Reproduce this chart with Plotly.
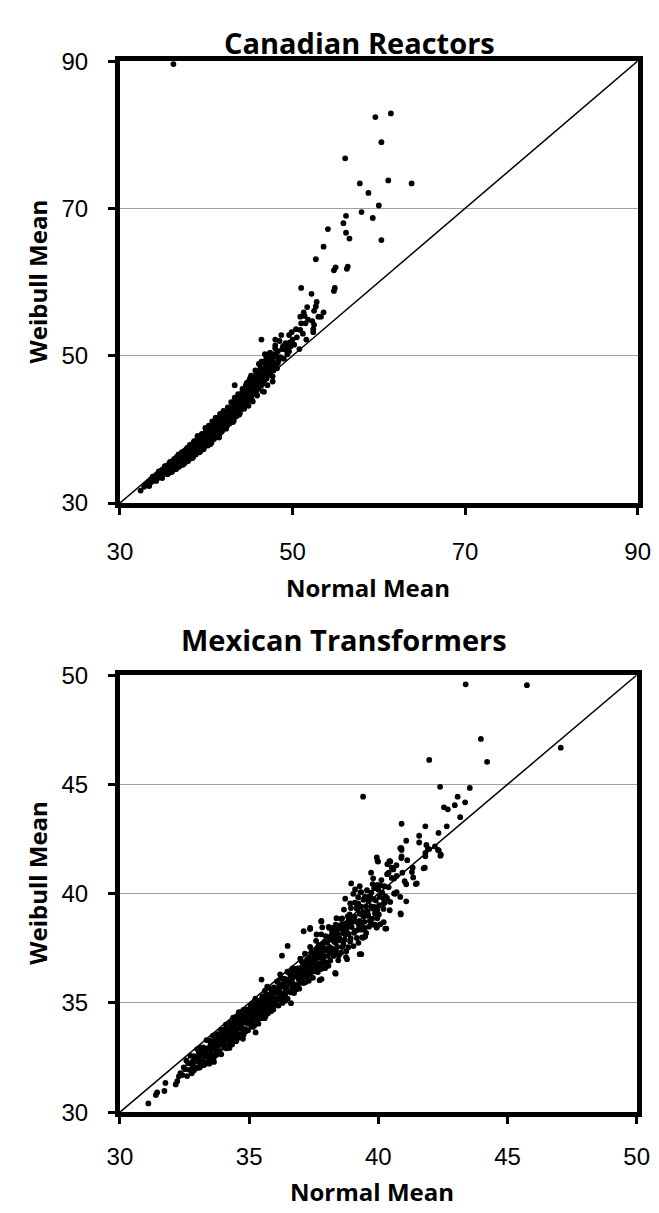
import plotly.graph_objects as go

# ---------------- data ----------------
can_range = [30, 90]
can_ticks = [30, 50, 70, 90]
mex_range = [30, 50]
mex_ticks = [30, 35, 40, 45, 50]
diag_can = [30, 90]
diag_mex = [30, 50]

# Canadian Reactors: dense band (Normal Mean, Weibull Mean)
can_band = [
    (32.4, 31.7), (32.8, 32.2), (33.0, 32.5), (33.2, 32.4), (33.3, 32.9), (33.5, 32.8), (33.6, 33.2), (33.7, 32.9), (33.9, 33.1), (34.0, 33.6),
    (34.1, 33.2), (34.2, 33.6), (34.3, 33.9), (34.4, 33.4), (34.5, 33.8), (34.6, 34.2), (34.7, 33.6), (34.8, 34.0), (34.9, 34.5), (35.0, 33.9),
    (35.1, 34.3), (35.2, 34.7), (35.3, 34.1), (35.4, 34.5), (35.5, 35.0), (35.6, 34.3), (35.7, 34.8), (35.8, 35.3), (35.9, 34.6), (36.0, 35.1),
    (36.1, 35.5), (36.2, 34.8), (36.3, 35.3), (36.4, 35.8), (36.5, 35.1), (36.6, 35.6), (36.7, 36.2), (36.8, 35.3), (36.9, 35.9), (37.0, 36.4),
    (37.1, 35.5), (37.2, 36.1), (37.3, 36.6), (37.4, 35.8), (37.5, 36.3), (37.6, 36.9), (37.7, 36.0), (37.8, 36.6), (37.9, 37.2), (38.0, 36.2),
    (36.3, 34.9), (36.9, 36.5), (37.4, 36.9), (37.9, 36.0), (37.0, 35.7),
    (38.1, 36.8), (38.2, 37.4), (38.3, 36.4), (38.4, 37.0), (38.5, 37.7), (38.6, 36.7), (38.7, 37.3), (38.8, 38.0), (38.9, 36.9), (39.0, 37.5),
    (39.1, 38.2), (39.2, 37.2), (39.3, 37.9), (39.4, 38.6), (39.5, 37.4), (39.6, 38.1), (39.7, 38.8), (39.8, 37.7), (39.9, 38.4), (40.0, 39.1),
    (38.2, 36.6), (38.6, 38.3), (39.0, 38.6), (39.4, 37.6), (39.8, 39.2), (38.4, 37.9), (39.2, 38.8), (39.7, 37.9),
    (40.1, 38.0), (40.2, 38.7), (40.3, 39.5), (40.4, 38.3), (40.5, 39.0), (40.6, 39.8), (40.7, 38.6), (40.8, 39.3), (40.9, 40.1), (41.0, 38.9),
    (41.1, 39.6), (41.2, 40.4), (41.3, 39.2), (41.4, 39.9), (41.5, 40.8), (41.6, 39.5), (41.7, 40.3), (41.8, 41.1), (41.9, 39.9), (42.0, 40.6),
    (40.3, 38.9), (40.6, 40.3), (40.9, 39.6), (41.2, 41.0), (41.5, 39.3), (41.8, 40.6), (42.0, 41.6), (40.0, 38.4), (41.0, 40.6), (41.4, 40.2),
    (42.1, 41.4), (42.2, 40.3), (42.3, 41.0), (42.4, 41.9), (42.5, 40.7), (42.6, 41.5), (42.7, 42.4), (42.8, 41.1), (42.9, 41.9), (43.0, 42.9),
    (43.1, 41.5), (43.2, 42.3), (43.3, 43.3), (43.4, 41.9), (43.5, 42.8), (43.6, 43.8), (43.7, 42.3), (43.8, 43.2), (43.9, 44.3), (44.0, 42.7),
    (42.3, 42.2), (42.6, 40.9), (42.9, 42.7), (43.2, 41.6), (43.5, 43.6), (43.8, 42.0), (44.0, 44.0), (42.4, 41.2), (43.1, 42.0), (43.6, 42.7),
    (44.1, 43.6), (44.2, 44.6), (44.3, 42.9), (44.4, 44.0), (44.5, 45.1), (44.6, 43.4), (44.7, 44.5), (44.8, 45.6), (44.9, 43.9), (45.0, 45.0),
    (45.1, 46.1), (45.2, 44.3), (45.3, 45.5), (45.4, 46.6), (45.5, 44.8), (45.6, 46.0), (45.7, 47.1), (45.8, 45.2), (45.9, 46.4), (46.0, 47.6),
    (44.3, 44.9), (44.6, 46.0), (44.9, 45.3), (45.2, 47.3), (45.5, 45.9), (45.8, 47.8), (46.0, 45.6), (44.5, 43.8), (45.0, 46.7), (45.4, 45.0),
    (46.1, 46.3), (46.2, 47.4), (46.3, 48.3), (46.4, 46.0), (46.5, 47.1), (46.6, 48.0), (46.7, 46.6), (46.8, 47.8), (46.9, 48.9), (47.0, 46.9),
    (47.1, 48.3), (47.2, 49.3), (47.3, 47.4), (47.4, 48.7), (47.5, 47.9), (47.6, 49.6), (47.7, 48.2), (47.8, 49.1), (47.9, 50.2), (48.0, 48.5),
    (46.2, 48.8), (46.6, 46.4), (47.0, 49.8), (47.4, 50.4), (47.8, 48.0), (46.4, 49.2), (47.2, 47.8),
    (35.3, 34.9), (35.6, 34.0), (35.9, 35.4), (36.1, 34.4), (36.4, 35.2), (36.6, 36.3), (36.8, 34.9), (37.1, 36.6), (37.3, 35.2), (37.6, 36.3),
    (37.8, 37.5), (38.0, 35.9), (38.3, 37.7), (38.5, 36.3), (38.8, 37.4), (39.0, 38.9), (39.2, 36.9), (39.5, 38.5), (39.7, 37.3), (39.9, 39.6),
    (40.2, 37.8), (40.4, 39.9), (40.6, 38.2), (40.8, 40.6), (41.0, 39.5), (41.3, 41.2), (41.5, 38.9), (41.7, 41.7), (41.9, 40.5), (42.2, 42.3),
    (42.4, 40.5), (42.6, 42.8), (42.8, 41.6), (43.0, 43.6), (43.2, 41.2), (43.4, 43.9), (43.6, 42.3), (43.9, 43.0), (44.1, 44.9), (44.3, 43.5),
    (44.6, 44.7), (44.8, 43.3), (45.1, 45.5), (45.3, 44.0), (45.6, 47.2), (45.8, 45.9), (46.0, 46.5), (46.3, 47.5), (46.5, 46.2), (46.8, 49.3),
    (47.1, 47.4), (47.5, 49.1), (47.7, 47.2), (48.1, 50.0), (48.2, 48.3), (48.4, 49.4), (48.8, 50.9), (49.0, 49.6), (49.2, 51.7), (49.6, 50.6),
    (50.2, 51.5), (50.5, 52.5), (51.0, 54.4), (51.2, 53.0),
    (33.4, 32.3), (33.8, 33.6), (34.2, 33.0), (34.5, 34.3), (34.9, 33.4), (35.2, 35.0), (35.5, 33.9), (35.8, 35.6), (36.0, 34.2), (36.3, 36.0),
    (36.5, 34.6), (36.8, 36.6), (37.0, 35.1), (37.2, 36.9), (37.5, 35.4), (37.7, 37.3), (37.9, 35.7), (38.1, 37.9), (38.4, 36.1), (38.6, 38.4),
    (38.8, 36.6), (39.0, 39.1), (39.3, 37.0), (39.5, 39.4), (39.7, 37.6), (39.9, 40.2), (40.1, 38.4), (40.3, 40.5), (40.5, 38.0), (40.7, 41.1),
    (40.9, 38.7), (41.1, 41.6), (41.3, 39.0), (41.6, 42.1), (41.8, 39.7), (42.0, 42.5), (42.3, 40.1), (42.5, 43.0), (42.7, 40.8), (42.9, 43.7),
    (43.1, 41.0), (43.3, 44.3), (43.5, 41.8), (43.7, 44.8), (43.9, 42.2), (44.2, 45.5), (44.4, 42.8), (44.7, 46.3), (44.9, 43.2), (45.1, 47.0),
    (45.4, 43.8), (45.7, 48.0), (45.9, 44.6), (46.2, 48.9), (46.5, 45.2), (46.8, 50.2), (47.1, 46.0), (47.4, 49.6), (47.7, 46.5), (48.0, 51.0),
    (34.0, 33.3), (34.3, 33.6), (34.6, 33.9), (34.9, 34.1), (35.1, 34.0), (35.4, 34.3), (35.7, 34.5), (35.9, 34.9), (36.2, 35.2), (36.5, 35.4),
    (36.7, 35.5), (37.0, 36.0), (37.2, 35.8), (37.5, 36.6), (37.7, 36.5), (38.0, 37.0), (38.2, 36.9), (38.5, 37.3), (38.7, 37.8), (39.0, 38.1),
    (39.2, 37.7), (39.5, 38.0), (39.6, 38.6), (39.9, 38.8), (40.1, 39.3), (40.3, 38.6), (40.5, 39.5), (40.8, 39.9), (41.0, 40.1), (41.2, 39.8),
    (41.4, 40.6), (41.6, 40.9), (41.9, 41.3), (42.1, 40.9), (42.3, 41.6), (42.5, 42.1), (42.7, 41.8), (42.9, 42.3), (43.1, 42.8), (43.3, 42.5),
    (43.5, 43.1), (43.7, 43.6), (43.9, 43.6), (44.1, 44.1), (44.3, 44.4), (44.5, 44.5), (44.7, 45.0), (44.9, 44.7), (45.1, 45.3), (45.3, 46.0),
    (45.5, 46.4), (45.7, 46.0), (45.9, 47.0), (46.1, 47.2), (46.3, 46.8), (46.5, 47.7), (46.7, 48.3), (46.9, 47.6), (47.3, 48.5), (47.6, 48.8),
]

# Canadian Reactors: sparse upper tail
can_tail = [
    (36.2, 89.6), (59.6, 82.4), (61.4, 82.9), (60.3, 79.0), (56.1, 76.8), (57.8, 73.4), (61.1, 73.8), (63.8, 73.4), (58.8, 72.1),
    (60.0, 70.4), (58.0, 69.5), (56.2, 69.0), (59.3, 68.7), (55.9, 68.0), (60.3, 65.7), (54.1, 67.2), (56.2, 66.7), (56.6, 65.9),
    (53.6, 64.8), (52.7, 63.1), (55.0, 62.0), (54.8, 61.6), (56.4, 62.1), (56.3, 61.8), (51.0, 59.2), (54.9, 59.2), (54.8, 58.8),
    (52.2, 58.4), (52.8, 57.3), (52.7, 56.7), (51.7, 56.6), (52.5, 56.1), (53.6, 55.9), (51.3, 55.9), (50.9, 55.3), (51.4, 55.4),
    (53.0, 55.3), (53.3, 55.3), (51.8, 54.9), (51.5, 54.4), (52.5, 54.2), (50.4, 53.6), (50.9, 53.5), (49.9, 53.2), (52.4, 53.2),
    (49.6, 52.8), (48.7, 52.8), (46.4, 52.2), (48.0, 52.2), (48.5, 52.0), (50.0, 52.2), (51.6, 52.2), (49.7, 51.8), (48.0, 51.4),
    (48.9, 51.3), (49.8, 51.3), (47.4, 50.4), (48.3, 50.6), (49.2, 50.8), (50.8, 50.9), (47.8, 49.8), (48.6, 49.8), (49.4, 50.2),
    (46.1, 48.9), (47.6, 49.0), (48.3, 49.0), (52.3, 54.7), (52.4, 53.6), (49.3, 51.1), (43.3, 46.0), (45.6, 46.9), (46.7, 45.1),
]

# Mexican Transformers: dense band
mex_band = [
    (31.10, 30.40), (31.39, 30.79), (31.44, 30.90), (31.72, 30.97), (31.76, 31.34), (32.16, 31.27), (32.22, 31.42), (32.28, 31.64),
    (32.34, 31.79), (32.42, 31.70), (32.47, 32.05),
    (32.52, 31.97), (32.57, 32.37), (32.60, 31.65), (32.64, 32.24), (32.69, 31.94), (32.73, 32.58), (32.78, 31.78), (32.82, 32.32),
    (32.86, 32.56), (32.91, 32.06), (32.95, 32.35), (32.99, 32.89),
    (33.02, 32.32), (33.05, 32.70), (33.09, 32.04), (33.12, 32.97), (33.15, 32.60), (33.19, 32.34), (33.22, 32.97), (33.26, 32.61),
    (33.29, 32.19), (33.32, 32.92), (33.35, 33.30), (33.39, 32.59), (33.42, 32.92), (33.45, 32.50), (33.47, 33.27), (33.49, 32.89),
    (33.51, 33.21), (33.54, 32.64), (33.57, 33.12), (33.60, 33.50), (33.63, 32.48), (33.66, 32.96), (33.68, 33.33), (33.71, 33.16),
    (33.74, 32.79), (33.77, 33.57), (33.80, 33.05), (33.83, 33.43), (33.85, 32.80), (33.88, 33.28), (33.91, 33.76), (33.94, 33.09),
    (33.96, 33.51), (33.99, 33.34),
    (34.02, 33.77), (34.04, 33.09), (34.07, 33.52), (34.10, 34.00), (34.12, 32.92), (34.15, 33.45), (34.17, 33.82), (34.20, 33.35),
    (34.23, 33.73), (34.25, 33.20), (34.28, 34.08), (34.30, 33.65), (34.33, 33.93), (34.36, 33.46), (34.38, 34.33), (34.41, 33.66),
    (34.43, 34.13), (34.46, 33.36), (34.48, 33.93), (34.49, 33.69),
    (34.51, 34.36), (34.53, 33.93), (34.56, 33.56), (34.58, 34.23), (34.61, 33.81), (34.63, 34.18), (34.65, 33.45), (34.68, 34.43),
    (34.70, 34.00), (34.73, 34.23), (34.75, 33.80), (34.78, 34.68), (34.80, 34.20), (34.83, 34.48), (34.85, 33.80), (34.88, 34.13),
    (34.90, 34.70), (34.92, 34.37), (34.95, 34.05), (34.97, 34.57), (34.99, 34.34), (34.60, 34.58),
    (35.02, 34.72), (35.04, 34.19), (35.07, 34.52), (35.09, 33.94), (35.12, 34.97), (35.14, 34.44), (35.17, 34.77), (35.19, 34.24),
    (35.22, 34.62), (35.24, 35.19), (35.27, 34.47), (35.29, 34.84), (35.32, 34.22), (35.34, 35.09), (35.37, 34.72), (35.39, 34.49),
    (35.42, 35.07), (35.44, 34.69), (35.47, 34.97), (35.49, 34.49), (35.30, 35.10), (35.15, 33.90),
    (35.51, 35.31), (35.53, 34.78), (35.56, 35.11), (35.58, 34.48), (35.61, 35.56), (35.63, 35.03), (35.66, 34.76), (35.68, 35.38),
    (35.71, 35.01), (35.73, 34.53), (35.76, 35.36), (35.78, 34.93), (35.81, 35.66), (35.83, 35.28), (35.86, 34.86), (35.88, 35.53),
    (35.91, 35.26), (35.93, 34.98), (35.96, 35.71), (35.98, 35.48), (35.70, 35.75), (35.60, 34.30),
    (36.01, 35.21), (36.03, 35.63), (36.06, 34.91), (36.08, 35.98), (36.11, 35.51), (36.13, 35.18), (36.16, 35.86), (36.18, 35.48),
    (36.21, 35.16), (36.23, 35.78), (36.26, 36.11), (36.28, 35.43), (36.31, 35.76), (36.33, 35.13), (36.36, 36.11), (36.38, 35.73),
    (36.41, 35.51), (36.43, 36.08), (36.46, 35.71), (36.48, 36.43), (36.20, 36.30), (36.40, 35.10),
    (36.51, 36.01), (36.53, 35.53), (36.56, 36.36), (36.58, 35.88), (36.61, 36.21), (36.63, 35.48), (36.66, 36.06), (36.68, 36.58),
    (36.71, 35.86), (36.73, 36.38), (36.76, 35.81), (36.78, 36.23), (36.81, 36.56), (36.83, 35.63), (36.86, 36.21), (36.88, 36.58),
    (36.91, 36.11), (36.93, 36.48), (36.96, 35.91), (36.98, 37.03),
    (37.01, 36.41), (37.04, 36.89), (37.06, 36.16), (37.09, 36.69), (37.11, 35.91), (37.14, 36.44), (37.16, 37.26), (37.19, 36.69),
    (37.21, 36.21), (37.24, 36.99), (37.26, 36.46), (37.29, 36.94), (37.31, 36.01), (37.34, 36.79), (37.36, 37.56), (37.39, 36.64),
    (37.41, 37.31), (37.44, 36.49), (37.46, 37.01), (37.49, 36.84),
    (37.51, 37.31), (37.54, 36.44), (37.56, 37.01), (37.59, 37.84), (37.61, 36.81), (37.64, 37.29), (37.66, 36.41), (37.69, 37.64),
    (37.71, 37.06), (37.74, 36.79), (37.76, 37.46), (37.79, 38.14), (37.81, 37.31), (37.84, 36.79), (37.86, 37.71), (37.89, 37.14),
    (37.91, 37.51), (37.94, 36.59), (37.96, 38.06), (37.99, 37.39),
    (38.02, 37.77), (38.05, 37.15), (38.08, 38.48), (38.11, 37.56), (38.14, 36.94), (38.17, 38.07), (38.20, 37.50), (38.23, 38.43),
    (38.26, 37.86), (38.29, 37.29), (38.32, 38.17), (38.35, 37.75), (38.38, 38.88), (38.41, 37.56), (38.44, 38.14), (38.47, 37.17),
    (38.49, 38.54), (38.30, 37.80),
    (38.52, 37.87), (38.55, 38.85), (38.58, 38.38), (38.61, 37.56), (38.64, 38.19), (38.67, 39.27), (38.70, 37.90), (38.73, 38.63),
    (38.76, 37.36), (38.79, 38.44), (38.82, 38.97), (38.85, 38.15), (38.88, 38.63), (38.91, 37.81), (38.94, 39.34), (38.97, 38.47),
    (39.02, 38.87), (39.06, 38.21), (39.09, 39.59), (39.13, 38.73), (39.17, 37.97), (39.20, 39.30), (39.24, 38.59), (39.28, 39.08),
    (39.31, 40.06), (39.35, 38.35), (39.39, 39.04), (39.42, 39.72), (39.46, 38.71), (39.49, 38.04),
    (39.52, 39.42), (39.56, 40.16), (39.60, 39.05), (39.64, 38.49), (39.68, 39.88), (39.72, 39.42), (39.76, 38.86), (39.80, 40.70),
    (39.84, 39.39), (39.88, 38.58), (39.92, 40.27), (39.96, 39.26),
    (40.05, 39.85), (40.12, 40.62), (40.20, 39.30), (40.28, 39.88), (40.35, 41.35), (40.44, 39.24), (40.52, 40.72), (40.61, 40.01),
    (40.70, 41.30), (40.85, 39.85),
    (32.81, 32.15), (32.87, 31.92), (32.93, 32.45), (33.00, 32.02), (33.06, 32.55), (33.11, 32.20), (33.17, 32.82), (33.23, 32.15),
    (33.28, 32.55), (33.33, 32.85), (33.37, 32.30), (33.41, 32.75), (33.46, 32.22), (33.50, 33.05), (33.53, 32.45), (33.59, 32.88),
    (33.64, 32.30), (33.69, 33.05), (33.73, 32.62), (33.79, 33.30), (33.84, 32.70), (33.87, 33.15), (33.92, 32.65), (33.98, 33.55),
    (34.03, 32.95), (34.06, 33.30), (34.13, 33.65), (34.18, 33.02), (34.24, 33.55), (34.29, 33.25), (34.34, 33.10), (34.39, 33.80),
    (34.45, 33.55), (34.50, 33.25), (34.54, 34.05), (34.57, 33.40), (34.64, 33.95), (34.69, 33.55), (34.74, 34.35), (34.79, 33.55),
    (34.82, 34.10), (34.87, 33.70), (34.91, 34.55), (34.96, 33.75), (35.01, 34.30), (35.06, 34.90), (35.11, 34.10), (35.16, 34.60),
    (35.21, 33.98), (35.26, 34.95), (35.31, 34.55), (35.36, 34.05), (35.41, 34.80), (35.46, 34.30), (35.50, 35.20), (35.54, 34.60),
    (35.59, 34.95), (35.64, 34.40), (35.69, 35.25), (35.74, 34.75), (35.79, 35.10), (35.85, 34.62), (35.89, 35.20), (35.94, 34.70),
    (35.99, 35.60), (36.04, 35.05), (36.09, 35.45), (36.14, 34.88), (36.19, 35.70), (36.24, 35.30), (36.29, 35.00), (36.35, 35.90),
    (36.39, 35.35), (36.44, 35.65), (36.49, 35.20), (36.54, 36.05), (36.59, 35.50), (36.64, 36.30), (36.69, 35.70), (36.74, 35.45),
    (36.79, 36.45), (36.85, 35.85), (36.89, 36.30), (36.94, 35.65), (36.99, 36.60), (37.03, 36.05), (37.08, 36.85), (37.13, 36.25),
    (37.18, 35.95), (37.22, 36.85), (37.28, 36.25), (37.33, 37.10), (37.37, 36.35), (37.43, 36.80), (37.47, 36.15), (37.53, 37.10),
    (37.58, 36.60), (37.62, 37.45), (37.68, 36.70), (37.72, 37.25), (37.78, 36.55), (37.83, 37.55), (37.87, 36.95), (37.92, 37.80),
    (37.97, 36.85), (38.03, 37.45), (38.07, 36.70), (38.12, 37.90), (38.16, 37.30), (38.21, 38.25), (38.27, 37.15), (38.31, 37.95),
    (38.36, 37.40), (38.40, 38.35), (38.45, 36.95), (38.50, 37.95), (38.56, 37.30), (38.60, 38.60), (38.65, 37.70), (38.69, 38.40),
    (38.75, 37.10), (38.80, 38.20), (38.84, 37.55), (38.89, 39.05), (38.93, 37.95), (38.99, 38.70), (39.04, 37.60), (39.08, 38.95),
    (39.12, 38.30), (39.18, 39.45), (39.23, 37.75), (39.27, 38.75), (39.33, 39.40), (39.37, 38.00), (39.43, 38.95), (39.48, 39.85),
    (39.53, 38.20), (39.58, 39.20), (39.63, 39.65), (39.67, 38.75), (39.73, 40.05), (39.78, 38.60), (39.83, 39.75), (39.87, 39.10),
    (39.93, 38.45), (39.97, 40.40), (40.02, 39.05), (40.08, 38.60), (40.15, 40.05), (40.25, 39.60),
]

# Mexican Transformers: scattered points
mex_tail = [
    (43.38, 49.58), (45.75, 49.54), (43.97, 47.08), (47.06, 46.68), (41.97, 46.12), (44.21, 46.03), (39.41, 44.44), (42.39, 44.89),
    (43.54, 44.84), (43.07, 44.44), (43.36, 44.18), (42.96, 44.05), (42.54, 43.95), (42.69, 43.86), (43.17, 43.50), (40.90, 43.20),
    (41.82, 43.08), (42.65, 43.08), (42.33, 42.78), (41.58, 42.65), (41.58, 42.34), (41.08, 42.42), (40.89, 42.08), (40.90, 42.00),
    (42.19, 42.16), (41.92, 42.04), (42.31, 42.00), (42.42, 41.78), (41.82, 41.86), (41.82, 41.71), (40.90, 41.71), (41.12, 41.53),
    (39.94, 41.66), (39.97, 41.49), (40.43, 41.49), (41.75, 41.16), (39.72, 40.96), (41.86, 42.23), (41.97, 42.04), (42.34, 41.98),
    (42.40, 41.74), (41.80, 41.19), (41.30, 40.99), (41.35, 40.74), (41.49, 40.47), (41.02, 40.57), (41.08, 40.43), (40.93, 40.96),
    (40.71, 40.81), (40.61, 40.69), (40.46, 41.47), (40.40, 40.96), (40.52, 41.19), (40.34, 40.89), (39.99, 41.47), (39.78, 40.44),
    (40.09, 40.37), (40.24, 40.34), (40.40, 40.29), (39.84, 40.25), (39.99, 40.19), (38.95, 40.47), (39.28, 40.34), (39.10, 40.19),
    (39.03, 39.99), (39.34, 40.07), (39.59, 39.84), (38.72, 39.77), (39.22, 39.84), (39.47, 39.74), (39.90, 39.69), (40.21, 39.77),
    (40.34, 39.80), (40.65, 39.99), (41.08, 39.65), (40.87, 39.05), (40.21, 39.55), (40.03, 39.47), (39.78, 39.32), (39.90, 39.25),
    (39.22, 39.55), (38.91, 39.55), (39.16, 39.32), (39.41, 39.17), (39.59, 38.99), (39.96, 38.87), (40.21, 38.70), (40.31, 38.40),
    (39.94, 38.46), (39.72, 38.58), (39.34, 38.58), (38.85, 38.76), (38.60, 38.87), (38.35, 38.58), (38.10, 38.43), (37.79, 38.73),
    (37.83, 38.46), (37.36, 38.38), (37.61, 38.13), (38.54, 38.43), (38.72, 38.13), (39.22, 38.35), (39.41, 37.98),
    (40.85, 42.08), (40.89, 41.63), (40.46, 41.48), (40.58, 41.11), (41.33, 41.19), (41.45, 40.44), (40.71, 40.07), (40.46, 39.62),
    (40.86, 39.10), (39.96, 38.95), (40.27, 38.40), (39.47, 38.43), (39.34, 37.23), (38.79, 37.00), (38.35, 36.34), (37.73, 36.04),
    (36.49, 37.61), (36.27, 37.16), (35.48, 36.07), (37.80, 36.09), (38.33, 36.37), (39.28, 37.23), (37.80, 38.75), (37.11, 38.28),
    (37.36, 38.43), (36.62, 34.99), (35.25, 33.65), (34.76, 33.36), (34.24, 32.94),
]

# ---------------- figure ----------------
W, H = 659, 1213


def px_x(p):
    return p / W


def px_y(p):
    return 1 - p / H


marker = dict(color="black", size=5.8, line=dict(width=0))

fig = go.Figure()
fig.add_trace(go.Scatter(x=[p[0] for p in can_band + can_tail], y=[p[1] for p in can_band + can_tail],
                         mode="markers", marker=marker, xaxis="x", yaxis="y", showlegend=False))
fig.add_trace(go.Scatter(x=diag_can, y=diag_can, mode="lines", line=dict(color="black", width=1.5),
                         xaxis="x", yaxis="y", showlegend=False))
fig.add_trace(go.Scatter(x=[p[0] for p in mex_band + mex_tail], y=[p[1] for p in mex_band + mex_tail],
                         mode="markers", marker=marker, xaxis="x2", yaxis="y2", showlegend=False))
fig.add_trace(go.Scatter(x=diag_mex, y=diag_mex, mode="lines", line=dict(color="black", width=1.5),
                         xaxis="x2", yaxis="y2", showlegend=False))

tickfont = dict(family="Liberation Sans, Arial, sans-serif", size=24, color="black")
common = dict(showline=True, linecolor="black", linewidth=5, mirror=True, ticks="outside",
              ticklen=7, tickwidth=3, tickcolor="black", zeroline=False, tickfont=tickfont)

fig.update_layout(
    width=W, height=H,
    margin=dict(l=0, r=0, t=0, b=0),
    paper_bgcolor="white", plot_bgcolor="white",
    xaxis=dict(domain=[px_x(103), px_x(642)], range=can_range, tickvals=can_ticks, anchor="y",
               showgrid=False, ticklabelstandoff=16, **common),
    yaxis=dict(domain=[px_y(492), px_y(40)], range=can_range, tickvals=can_ticks, anchor="x",
               showgrid=True, gridcolor="#a0a0a0", gridwidth=1, ticklabelstandoff=15, **common),
    xaxis2=dict(domain=[px_x(103), px_x(641)], range=mex_range, tickvals=mex_ticks, anchor="y2",
                showgrid=False, ticklabelstandoff=12, **common),
    yaxis2=dict(domain=[px_y(1115), px_y(668)], range=mex_range, tickvals=mex_ticks, anchor="x2",
                showgrid=True, gridcolor="#a0a0a0", gridwidth=1, ticklabelstandoff=15, **common),
)

titlefont = dict(family="Open Sans, Lato, sans-serif", size=29, color="black", weight="bold")
axfont = dict(family="Open Sans, Lato, sans-serif", size=24, color="black", weight="bold")

annotations = [
    dict(text="Canadian Reactors", x=px_x(352), y=px_y(21), font=titlefont),
    dict(text="Normal Mean", x=px_x(361), y=px_y(578), font=axfont),
    dict(text="Weibull Mean", x=px_x(17), y=px_y(265), font=axfont, textangle=-90),
    dict(text="Mexican Transformers", x=px_x(336), y=px_y(632), font=titlefont),
    dict(text="Normal Mean", x=px_x(365), y=px_y(1196), font=axfont),
    dict(text="Weibull Mean", x=px_x(17), y=px_y(880), font=axfont, textangle=-90),
]
for a in annotations:
    a.update(xref="paper", yref="paper", showarrow=False, xanchor="center", yanchor="middle")
fig.update_layout(annotations=annotations)

fig.write_html("out.html")
